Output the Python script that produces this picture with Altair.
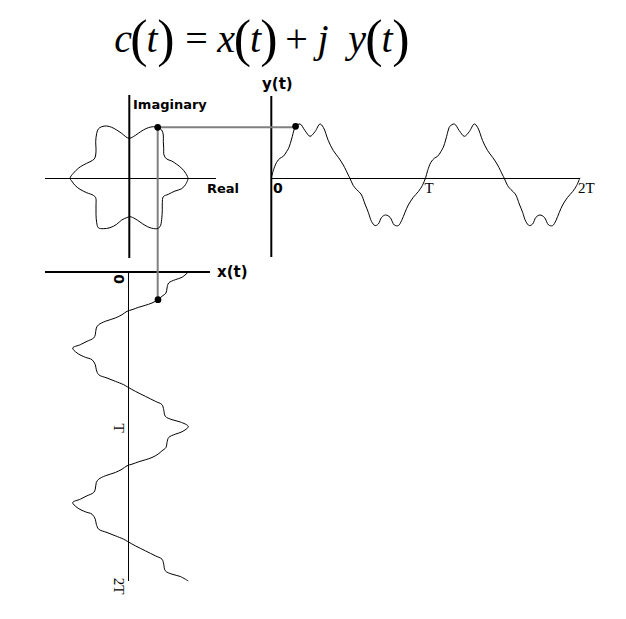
import altair as alt
import pandas as pd

# ---------------- data ----------------
# complex-plane outline c(t), traced counter-clockwise from the right tip
flower_x = [59.3, 56.7, 52.7, 47.7, 42.7, 37.7, 35.0, 34.7, 34.3, 34.3,
            32.7, 28.7, 24.3, 19.3, 14.3, 9.3, 4.3, 0.0, -3.3, -7.3,
            -12.3, -17.3, -22.3, -27.3, -30.7, -32.3, -33.3, -33.0, -33.3, -34.7,
            -39.0, -45.7, -50.7, -55.7, -59.0,
            -57.3, -54.0, -49.0, -42.3, -35.7, -33.3, -33.0, -33.0, -32.3, -30.7,
            -25.7, -19.0, -12.3, -7.3, -2.3, 1.0, 6.0, 11.0, 16.0, 21.0,
            27.7, 31.0, 32.7, 33.3, 33.3, 34.3, 39.3, 46.0, 52.7, 56.7]
flower_y = [0.0, 5.0, 10.0, 14.0, 17.3, 19.3, 23.3, 30.0, 36.6, 43.3,
            48.3, 51.0, 51.6, 50.6, 48.3, 45.0, 41.6, 40.0, 41.6, 45.0,
            48.3, 51.0, 52.3, 51.6, 49.3, 45.0, 36.6, 30.0, 23.3, 19.3,
            16.6, 13.3, 10.0, 5.0, 0.0,
            -2.7, -7.0, -11.0, -14.4, -17.0, -19.4, -27.7, -36.0, -44.4, -49.4,
            -50.4, -49.4, -46.0, -41.7, -39.4, -38.4, -40.4, -43.7, -47.0, -49.4,
            -50.4, -48.4, -41.0, -31.0, -24.4, -18.4, -16.0, -12.7, -10.4, -6.0]
flower_marker = 11

# y(t) over one period: phase in degrees, value
yt_phase = [0, 4.7, 12.4, 20.3, 28.0, 35.7, 41.3, 47.4, 53.7, 56.7,
            67.0, 78.6, 90.3, 102.0, 113.6, 121.3, 133.0, 144.7, 156.3, 168.0,
            179.6, 183.6, 191.3, 199.0, 209.3, 218.6, 226.3, 234.0, 242.0, 249.7,
            257.4, 266.7, 277.0, 287.0, 296.3, 304.0, 312.0, 319.7, 331.3, 343.0,
            352.3]
yt_vals = [0.5, 7.7, 16.0, 20.0, 22.0, 26.7, 31.0, 39.3, 49.3, 52.0,
           54.3, 47.7, 42.0, 46.7, 54.3, 51.0, 37.7, 27.7, 21.0, 13.3,
           3.3, 0.0, -7.3, -11.3, -15.7, -25.7, -34.0, -43.3, -47.3, -45.7,
           -39.0, -36.7, -39.0, -46.7, -47.3, -42.3, -34.0, -26.7, -19.0, -13.3,
           -7.3]
yt_marker = 9

# x(t) over one period: phase in degrees, value
xt_phase = [0, 12.3, 17.9, 25.6, 37.3, 48.9, 56.6, 64.5, 72.2, 77.6,
            82.2, 87.8, 91.6, 99.5, 107.2, 114.9, 122.8, 130.5, 146.1, 153.8,
            161.5, 169.4, 177.1, 188.7, 198.7, 204.3, 216.0, 227.6, 239.3, 247.0,
            254.7, 262.6, 268.0, 278.0, 289.6, 301.3, 309.2, 320.8, 336.2, 344.1,
            349.5]
xt_vals = [59.3, 53.0, 46.3, 39.7, 38.0, 37.0, 33.0, 29.0, 23.0, 16.3,
           9.7, 3.0, -2.0, -7.0, -13.7, -23.7, -30.3, -32.7, -33.7, -35.3,
           -42.0, -48.7, -56.3, -52.0, -43.7, -37.0, -33.7, -32.7, -30.3, -22.0,
           -13.7, -5.3, -1.3, 6.3, 16.3, 26.3, 33.0, 34.7, 36.3, 43.0,
           51.3]
xt_marker = 7

n_periods = 2
time_labels = ["0", "T", "2T"]
title_pieces = ["c", "(", "t", ")", "=", "x", "(", "t", ")", "+", "j", "y", "(", "t", ")"]

# ---------------- layout (page pixels) ----------------
W, H = 600, 595
CX, CY = 129.0, 178.3        # origin of the complex plane
YT0, PER_Y = 271.3, 154.3    # y(t): x of t=0, pixels per period
XT0, PER_X = 272.0, 154.5    # x(t): y of t=0, pixels per period
title_x = [123, 139, 152, 166, 196.5, 226, 242.5, 255.5, 269, 296.5, 323, 357, 374, 387, 401]

xs = alt.Scale(domain=[8, 8 + W], nice=False, zero=False)
ys = alt.Scale(domain=[8, 8 + H], reverse=True, nice=False, zero=False)
EX = alt.X("X:Q", scale=xs, axis=None)
EY = alt.Y("Y:Q", scale=ys, axis=None)
EX2 = alt.X2("X2:Q")
EY2 = alt.Y2("Y2:Q")

nf = len(flower_x)
flower = pd.DataFrame({
    "i": list(range(nf + 1)),
    "X": [CX + flower_x[k % nf] for k in range(nf + 1)],
    "Y": [CY - flower_y[k % nf] for k in range(nf + 1)],
})

rows = []
k = 0
for p in range(n_periods):
    for ph, v in zip(yt_phase, yt_vals):
        rows.append({"i": k, "X": YT0 + (ph + 360 * p) / 360 * PER_Y, "Y": CY - v})
        k += 1
rows.append({"i": k, "X": YT0 + n_periods * PER_Y, "Y": CY - yt_vals[0]})
ydf = pd.DataFrame(rows)

rows = []
k = 0
for p in range(n_periods):
    for ph, v in zip(xt_phase, xt_vals):
        rows.append({"i": k, "X": CX + v, "Y": XT0 + (ph + 360 * p) / 360 * PER_X})
        k += 1
rows.append({"i": k, "X": CX + xt_vals[0], "Y": XT0 + n_periods * PER_X})
xdf = pd.DataFrame(rows)

p_fl = (CX + flower_x[flower_marker], CY - flower_y[flower_marker])
p_y = (YT0 + yt_phase[yt_marker] / 360 * PER_Y, CY - yt_vals[yt_marker])
p_x = (CX + xt_vals[xt_marker], XT0 + xt_phase[xt_marker] / 360 * PER_X)


def curve(df):
    return alt.Chart(df).mark_line(color="black", strokeWidth=1, interpolate="catmull-rom").encode(
        x=EX, y=EY, order="i:Q")


thick_axes = pd.DataFrame([
    {"X": CX + 0.3, "Y": 95, "X2": CX + 0.3, "Y2": 258},
    {"X": YT0, "Y": 96, "X2": YT0, "Y2": 257},
    {"X": 45, "Y": XT0, "X2": 210, "Y2": XT0},
])
thin_axes = pd.DataFrame([
    {"X": 45, "Y": CY + 0.2, "X2": 216, "Y2": CY + 0.2},
    {"X": YT0, "Y": CY + 0.2, "X2": YT0 + n_periods * PER_Y, "Y2": CY + 0.2},
    {"X": CX - 0.5, "Y": XT0, "X2": CX - 0.5, "Y2": XT0 + n_periods * PER_X},
])
connectors = pd.DataFrame([
    {"X": p_fl[0], "Y": p_fl[1], "X2": p_y[0], "Y2": p_fl[1]},
    {"X": p_fl[0], "Y": p_fl[1], "X2": p_fl[0], "Y2": p_x[1]},
])
dots = pd.DataFrame([{"X": p[0], "Y": p[1]} for p in (p_fl, p_y, p_x)])


def rules(df, w, color):
    return alt.Chart(df).mark_rule(color=color, strokeWidth=w).encode(x=EX, y=EY, x2=EX2, y2=EY2)


def label(txt, x, y, font, size, weight="normal", style="normal", angle=0,
          align="left", baseline="alphabetic"):
    df = pd.DataFrame({"X": [x], "Y": [y], "t": [txt]})
    return alt.Chart(df).mark_text(font=font, fontSize=size, fontWeight=weight,
                                   fontStyle=style, angle=angle, align=align,
                                   baseline=baseline, color="black").encode(x=EX, y=EY, text="t:N")


def title_group(kind):
    sel = []
    for txt, x in zip(title_pieces, title_x):
        is_paren = txt in "()"
        is_op = txt in "=+"
        if (kind == "paren" and is_paren) or (kind == "op" and is_op) or (
                kind == "letter" and not is_paren and not is_op):
            sel.append({"X": x, "Y": 56 if is_paren else 52, "t": txt})
    df = pd.DataFrame(sel)
    size = {"paren": 52, "op": 40, "letter": 40}[kind]
    style = "italic" if kind == "letter" else "normal"
    return alt.Chart(df).mark_text(font="Liberation Serif", fontSize=size, fontStyle=style,
                                   align="center", baseline="alphabetic", color="black").encode(
        x=EX, y=EY, text="t:N")


SANS = "DejaVu Sans"
SERIF = "Liberation Serif"
layers = [
    rules(thin_axes, 1, "black"),
    rules(thick_axes, 2, "black"),
    rules(connectors, 2, "#808080"),
    curve(flower), curve(ydf), curve(xdf),
    alt.Chart(dots).mark_circle(color="black", opacity=1, size=45).encode(x=EX, y=EY),
    title_group("letter"), title_group("paren"), title_group("op"),
    label("Imaginary", 133, 108.5, SANS, 13, weight="bold"),
    label("Real", 207, 193, SANS, 13, weight="bold"),
    label("y(t)", 262, 89, SANS, 15, weight="bold"),
    label("x(t)", 217, 277, SANS, 15, weight="bold"),
    label(time_labels[0], 273, 193, SANS, 14, weight="bold"),
    label(time_labels[1], YT0 + PER_Y - 1, 193, SERIF, 15),
    label(time_labels[2], YT0 + 2 * PER_Y - 2, 193, SERIF, 15),
    label(time_labels[0], 118, 279, SANS, 14, weight="bold", angle=90, align="center", baseline="middle"),
    label(time_labels[1], 119, 428, SERIF, 15, angle=90, align="center", baseline="middle"),
    label(time_labels[2], 119, 586, SERIF, 15, angle=90, align="center", baseline="middle"),
]

chart = alt.layer(*layers).properties(width=W, height=H, padding=0, background="white").configure_view(stroke=None)
chart.save("out.html", embed_options={"renderer": "svg", "actions": False})
